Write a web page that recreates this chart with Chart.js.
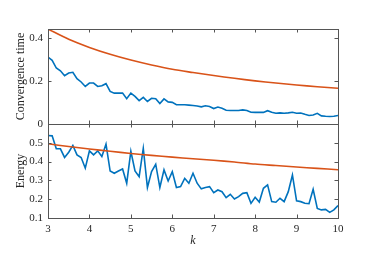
<!DOCTYPE html>
<html>
<head>
<meta charset="utf-8">
<script src="https://cdn.jsdelivr.net/npm/chart.js@4"></script>
<style>
  body { margin: 0; background: #fff; }
  #wrap { position: relative; width: 374px; height: 280px; }
  #wrap canvas { position: absolute; left: 0; top: 0; }
</style>
</head>
<body>
<div id="wrap">
  <canvas id="topChart" width="374" height="280"></canvas>
  <canvas id="bottomChart" width="374" height="280"></canvas>
</div>
<script>
// k values of the noisy measured series
var kValues = [3.0, 3.1, 3.2, 3.3, 3.4, 3.5, 3.6, 3.7, 3.8, 3.9,
  4.0, 4.1, 4.2, 4.3, 4.4, 4.5, 4.6, 4.7, 4.8, 4.9,
  5.0, 5.1, 5.2, 5.3, 5.4, 5.5, 5.6, 5.7, 5.8, 5.9,
  6.0, 6.1, 6.2, 6.3, 6.4, 6.5, 6.6, 6.7, 6.8, 6.9,
  7.0, 7.1, 7.2, 7.3, 7.4, 7.5, 7.6, 7.7, 7.8, 7.9,
  8.0, 8.1, 8.2, 8.3, 8.4, 8.5, 8.6, 8.7, 8.8, 8.9,
  9.0, 9.1, 9.2, 9.3, 9.4, 9.5, 9.6, 9.7, 9.8, 9.9, 10.0];

var convTime = [0.312, 0.297, 0.261, 0.248, 0.225, 0.238, 0.241, 0.211, 0.196, 0.175,
  0.191, 0.191, 0.175, 0.178, 0.188, 0.152, 0.144, 0.144, 0.144, 0.118,
  0.144, 0.129, 0.109, 0.124, 0.105, 0.120, 0.118, 0.095, 0.117, 0.103,
  0.101, 0.090, 0.090, 0.090, 0.088, 0.086, 0.084, 0.080, 0.085, 0.082,
  0.072, 0.079, 0.073, 0.064, 0.063, 0.063, 0.063, 0.066, 0.063, 0.055,
  0.054, 0.054, 0.054, 0.062, 0.055, 0.050, 0.052, 0.050, 0.052, 0.055,
  0.050, 0.051, 0.045, 0.040, 0.042, 0.050, 0.038, 0.036, 0.035, 0.036, 0.040];

var energy = [0.539, 0.537, 0.468, 0.468, 0.422, 0.450, 0.486, 0.436, 0.422, 0.365,
  0.457, 0.436, 0.457, 0.427, 0.493, 0.350, 0.338, 0.350, 0.361, 0.285,
  0.455, 0.350, 0.320, 0.470, 0.262, 0.347, 0.386, 0.262, 0.356, 0.297,
  0.347, 0.262, 0.267, 0.311, 0.285, 0.338, 0.285, 0.255, 0.262, 0.267,
  0.235, 0.249, 0.240, 0.208, 0.226, 0.201, 0.214, 0.231, 0.235, 0.178,
  0.210, 0.185, 0.258, 0.276, 0.187, 0.184, 0.205, 0.187, 0.240, 0.329,
  0.191, 0.187, 0.178, 0.176, 0.253, 0.151, 0.143, 0.146, 0.130, 0.143, 0.166];

var kCurve = [3, 3.5, 4, 4.5, 5, 5.5, 6, 6.5, 7, 7.5, 8, 8.5, 9, 9.5, 10];
var convCurve = [0.443, 0.395, 0.357, 0.325, 0.298, 0.275, 0.255, 0.240, 0.226, 0.213, 0.201, 0.191, 0.182, 0.174, 0.167];
var energyCurve = [0.495, 0.480, 0.467, 0.455, 0.443, 0.433, 0.424, 0.415, 0.407, 0.398, 0.387, 0.379, 0.371, 0.364, 0.357];

// tick labels
var xTicks = [3, 4, 5, 6, 7, 8, 9, 10];
var yTicksTop = [0, 0.2, 0.4];
var yTicksBottom = [0.1, 0.2, 0.3, 0.4, 0.5];

var blue = '#0072BD';
var orange = '#D95319';
var axisColor = '#262626';
var serif = "'Liberation Serif', 'DejaVu Serif', serif";

function points(xs, ys) {
  return xs.map(function (x, i) { return { x: x, y: ys[i] }; });
}

// box around the axes with short inward tick marks (matlab style)
var boxPlugin = {
  id: 'boxTicks',
  afterDatasetsDraw: function (chart) {
    var ctx = chart.ctx, a = chart.chartArea;
    var xs = chart.scales.x, ys = chart.scales.y;
    var len = 3.5;
    ctx.save();
    ctx.strokeStyle = '#555555';
    ctx.lineWidth = 1;
    ctx.beginPath();
    xs.ticks.forEach(function (t) {
      var px = Math.round(xs.getPixelForValue(t.value)) + 0.5;
      ctx.moveTo(px, a.bottom); ctx.lineTo(px, a.bottom - len);
      ctx.moveTo(px, a.top); ctx.lineTo(px, a.top + len);
    });
    ys.ticks.forEach(function (t) {
      var py = Math.round(ys.getPixelForValue(t.value)) + 0.5;
      ctx.moveTo(a.left, py); ctx.lineTo(a.left + len, py);
      ctx.moveTo(a.right, py); ctx.lineTo(a.right - len, py);
    });
    ctx.stroke();
    ctx.strokeRect(Math.round(a.left) + 0.5, Math.round(a.top) + 0.5,
      Math.round(a.right - a.left), Math.round(a.bottom - a.top));
    ctx.restore();
  }
};

function makeChart(id, curve, series, yMin, yMax, yTicks, yTitle, padding, showX) {
  var ctx = document.getElementById(id).getContext('2d');
  return new Chart(ctx, {
    type: 'line',
    data: {
      datasets: [{
        data: points(kCurve, curve),
        borderColor: orange,
        borderWidth: 1.6,
        pointRadius: 0,
        tension: 0.3
      }, {
        data: points(kValues, series),
        borderColor: blue,
        borderWidth: 1.6,
        pointRadius: 0,
        tension: 0
      }]
    },
    options: {
      responsive: false,
      animation: false,
      devicePixelRatio: 1,
      layout: { padding: padding },
      plugins: { legend: { display: false }, tooltip: { enabled: false } },
      scales: {
        x: {
          type: 'linear',
          min: 3,
          max: 10,
          grid: { display: false, drawTicks: false },
          border: { display: false },
          afterBuildTicks: function (scale) {
            scale.ticks = xTicks.map(function (v) { return { value: v }; });
          },
          afterFit: function (scale) { scale.height = showX ? 30 : 0; },
          ticks: {
            display: showX,
            padding: 5,
            maxRotation: 0,
            color: axisColor,
            font: { family: serif, size: 11 },
            callback: function (v) { return String(v); }
          },
          title: {
            display: showX,
            text: 'k',
            color: axisColor,
            padding: { top: 0, bottom: 0 },
            font: { family: serif, size: 12, style: 'italic' }
          }
        },
        y: {
          min: yMin,
          max: yMax,
          grid: { display: false, drawTicks: false },
          border: { display: false },
          afterBuildTicks: function (scale) {
            scale.ticks = yTicks.map(function (v) { return { value: v }; });
          },
          afterFit: function (scale) { scale.width = 48; },
          ticks: {
            padding: 5,
            color: axisColor,
            font: { family: serif, size: 11 },
            callback: function (v) { return String(v); }
          },
          title: {
            display: true,
            text: yTitle,
            color: axisColor,
            padding: { top: 14, bottom: 0 },
            font: { family: serif, size: 12 }
          }
        }
      }
    },
    plugins: [boxPlugin]
  });
}

makeChart('topChart', convCurve, convTime, 0, 0.443, yTicksTop, 'Convergence time',
  { top: 29, left: 0, right: 36, bottom: 156 }, false);
makeChart('bottomChart', energyCurve, energy, 0.1, 0.6, yTicksBottom, 'Energy',
  { top: 124, left: 0, right: 36, bottom: 32 }, true);
</script>
</body>
</html>
